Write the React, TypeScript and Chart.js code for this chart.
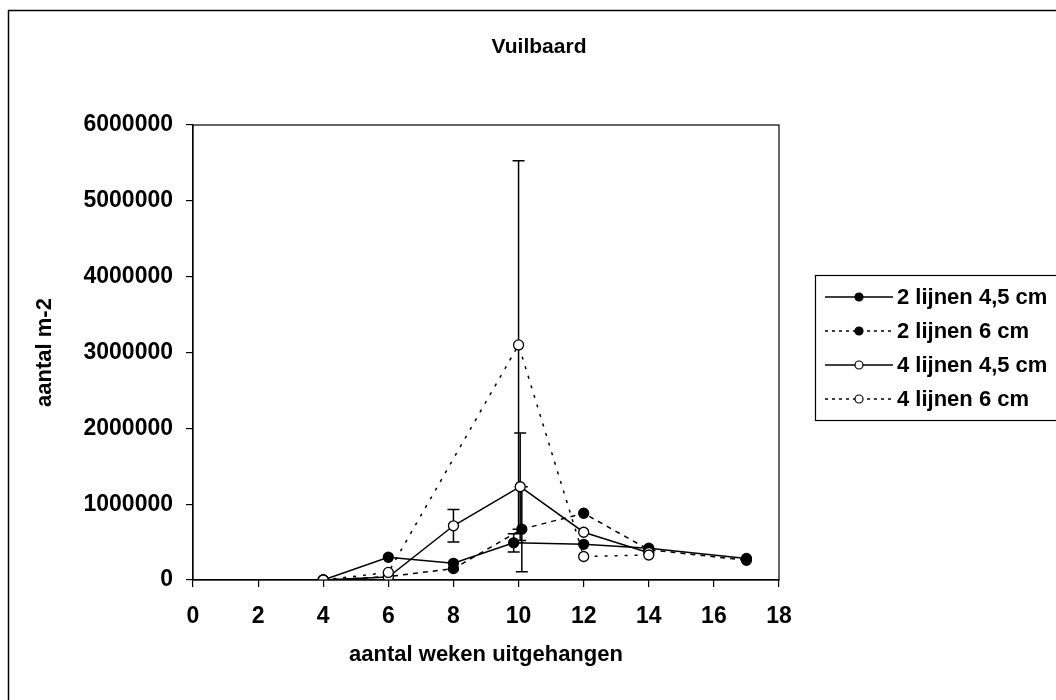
import React, { useEffect, useRef } from 'react';
import { Chart, registerables } from 'chart.js';

Chart.register(...registerables);

// ---- data ----
const chartTitle = 'Vuilbaard';
const xAxisTitle = 'aantal weken uitgehangen';
const yAxisTitle = 'aantal m-2';
const seriesLabels = ['2 lijnen 4,5 cm', '2 lijnen 6 cm', '4 lijnen 4,5 cm', '4 lijnen 6 cm'];

const xTicks = [0, 2, 4, 6, 8, 10, 12, 14, 16, 18];
const yTicks = [0, 1000000, 2000000, 3000000, 4000000, 5000000, 6000000];

const weeks2_45 = [4, 6, 8, 9.85, 12, 14, 17];
const vals2_45 = [0, 300000, 220000, 490000, 470000, 420000, 285000];
const err2_45 = [0, 0, 0, 120000, 0, 0, 0];

const weeks2_6 = [4, 6, 8, 10.1, 12, 14, 17];
const vals2_6 = [0, 45000, 150000, 670000, 880000, 400000, 260000];
const err2_6 = [0, 0, 0, 560000, 0, 0, 0];

const weeks4_45 = [4, 6, 8, 10.05, 12, 14];
const vals4_45 = [0, 40000, 715000, 1230000, 630000, 360000];
const err4_45 = [0, 0, 215000, 710000, 0, 0];

const weeks4_6 = [4, 6, 10, 12, 14];
const vals4_6 = [0, 100000, 3100000, 310000, 330000];
const err4_6 = [0, 0, 2430000, 0, 0];

const FONT = "'Liberation Sans', Arial, sans-serif";

function pts(xs: number[], ys: number[]) {
  return xs.map((x, i) => ({ x, y: ys[i] }));
}

const outerBorder = {
  id: 'outerBorder',
  beforeDraw(chart: any) {
    const ctx = chart.ctx;
    ctx.save();
    ctx.fillStyle = '#fff';
    ctx.fillRect(0, 0, chart.width, chart.height);
    ctx.strokeStyle = '#000';
    ctx.lineWidth = 1.5;
    ctx.strokeRect(8.5, 10.5, 3000, 3000);
    ctx.fillStyle = '#000';
    ctx.font = `bold 21px ${FONT}`;
    ctx.textAlign = 'center';
    ctx.textBaseline = 'middle';
    ctx.fillText(chartTitle, 539, 47);
    ctx.restore();
  },
};

const plotFrame = {
  id: 'plotFrame',
  afterDraw(chart: any) {
    const { left, top, right, bottom } = chart.chartArea;
    const ctx = chart.ctx;
    ctx.save();
    ctx.strokeStyle = '#000';
    ctx.lineWidth = 1.2;
    ctx.strokeRect(left, top, right - left, bottom - top);
    ctx.restore();
  },
};

const errorBars = {
  id: 'errorBars',
  beforeDatasetsDraw(chart: any) {
    const ctx = chart.ctx;
    const xs = chart.scales.x;
    const ys = chart.scales.y;
    ctx.save();
    ctx.strokeStyle = '#000';
    ctx.lineWidth = 1.5;
    chart.data.datasets.forEach((ds: any) => {
      (ds.errors || []).forEach((e: number, j: number) => {
        if (!e) return;
        const p = ds.data[j];
        const x = xs.getPixelForValue(p.x);
        const y1 = ys.getPixelForValue(p.y + e);
        const y2 = ys.getPixelForValue(Math.max(p.y - e, 0));
        ctx.beginPath();
        ctx.moveTo(x, y1);
        ctx.lineTo(x, y2);
        ctx.moveTo(x - 6, y1);
        ctx.lineTo(x + 6, y1);
        ctx.moveTo(x - 6, y2);
        ctx.lineTo(x + 6, y2);
        ctx.stroke();
      });
    });
    ctx.restore();
  },
};

const customLegend = {
  id: 'customLegend',
  afterDraw(chart: any) {
    const ctx = chart.ctx;
    const bx = 815, by = 275, bh = 145;
    ctx.save();
    ctx.strokeStyle = '#000';
    ctx.lineWidth = 1.2;
    ctx.strokeRect(bx + 0.5, by + 0.5, 400, bh);
    ctx.font = `bold 22px ${FONT}`;
    ctx.textBaseline = 'middle';
    ctx.fillStyle = '#000';
    chart.data.datasets.forEach((ds: any, i: number) => {
      const y = by + 22 + i * 34;
      ctx.beginPath();
      ctx.setLineDash(ds.legendDash || []);
      ctx.lineWidth = 1.5;
      ctx.moveTo(bx + 10, y);
      ctx.lineTo(bx + 78, y);
      ctx.stroke();
      ctx.setLineDash([]);
      ctx.beginPath();
      ctx.arc(bx + 44, y, 4, 0, Math.PI * 2);
      ctx.fillStyle = ds.pointBackgroundColor;
      ctx.fill();
      ctx.lineWidth = 1.2;
      ctx.stroke();
      ctx.fillStyle = '#000';
      ctx.fillText(ds.label, bx + 82, y + 1);
    });
    ctx.restore();
  },
};

export default function App() {
  const ref = useRef<HTMLCanvasElement>(null);
  useEffect(() => {
    if (!ref.current) return;
    const mk = (i: number, xs: number[], ys: number[], errs: number[], filled: boolean, dash: number[], legendDash: number[]) => ({
      label: seriesLabels[i],
      order: 3 - i,
      data: pts(xs, ys),
      errors: errs,
      legendDash,
      showLine: true,
      borderColor: '#000',
      borderWidth: 1.5,
      borderDash: dash,
      pointRadius: 5,
      pointBackgroundColor: filled ? '#000' : '#fff',
      pointBorderColor: '#000',
      pointBorderWidth: 1.3,
      tension: 0,
    });
    const chart = new Chart(ref.current, {
      type: 'scatter',
      data: {
        datasets: [
          mk(0, weeks2_45, vals2_45, err2_45, true, [], []),
          mk(1, weeks2_6, vals2_6, err2_6, true, [5, 5], [3, 4]),
          mk(2, weeks4_45, vals4_45, err4_45, false, [], []),
          mk(3, weeks4_6, vals4_6, err4_6, false, [3, 7], [3, 4]),
        ] as any,
      },
      options: {
        animation: false,
        responsive: false,
        layout: { padding: { top: 125, left: 10, right: 277, bottom: 20 } },
        plugins: {
          legend: { display: false },
          tooltip: { enabled: false },
          title: { display: false },
        },
        scales: {
          x: {
            type: 'linear',
            min: 0,
            max: 18,
            afterBuildTicks: (s: any) => { s.ticks = xTicks.map((v) => ({ value: v })); },
            afterFit: (s: any) => { s.height = 100; },
            grid: { display: true, drawOnChartArea: false, drawTicks: true, tickLength: 7, color: '#000', lineWidth: 1.2 },
            border: { display: true, color: '#000', width: 1.2 },
            ticks: { color: '#000', padding: 16, font: { family: FONT, size: 23, weight: 'bold' } },
            title: { display: true, text: xAxisTitle, color: '#000', font: { family: FONT, size: 22, weight: 'bold' }, padding: { top: 0, bottom: 12 } },
          },
          y: {
            type: 'linear',
            min: 0,
            max: 6000000,
            afterBuildTicks: (s: any) => { s.ticks = yTicks.map((v) => ({ value: v })); },
            afterFit: (s: any) => { s.width = 183; },
            grid: { display: true, drawOnChartArea: false, drawTicks: true, tickLength: 7, color: '#000', lineWidth: 1.2 },
            border: { display: true, color: '#000', width: 1.2 },
            ticks: { color: '#000', padding: 13, font: { family: FONT, size: 23, weight: 'bold' }, callback: (v: any) => String(v) },
            title: { display: true, text: yAxisTitle, color: '#000', font: { family: FONT, size: 22, weight: 'bold' }, padding: { top: 22, bottom: 0 } },
          },
        },
      },
      plugins: [outerBorder, errorBars, plotFrame, customLegend],
    });
    return () => chart.destroy();
  }, []);
  return (
    <div style={{ position: 'fixed', left: 0, top: 0, width: 1056, height: 700, overflow: 'hidden', background: '#fff' }}>
      <canvas ref={ref} width={1056} height={700} style={{ width: 1056, height: 700, display: 'block' }} />
    </div>
  );
}
